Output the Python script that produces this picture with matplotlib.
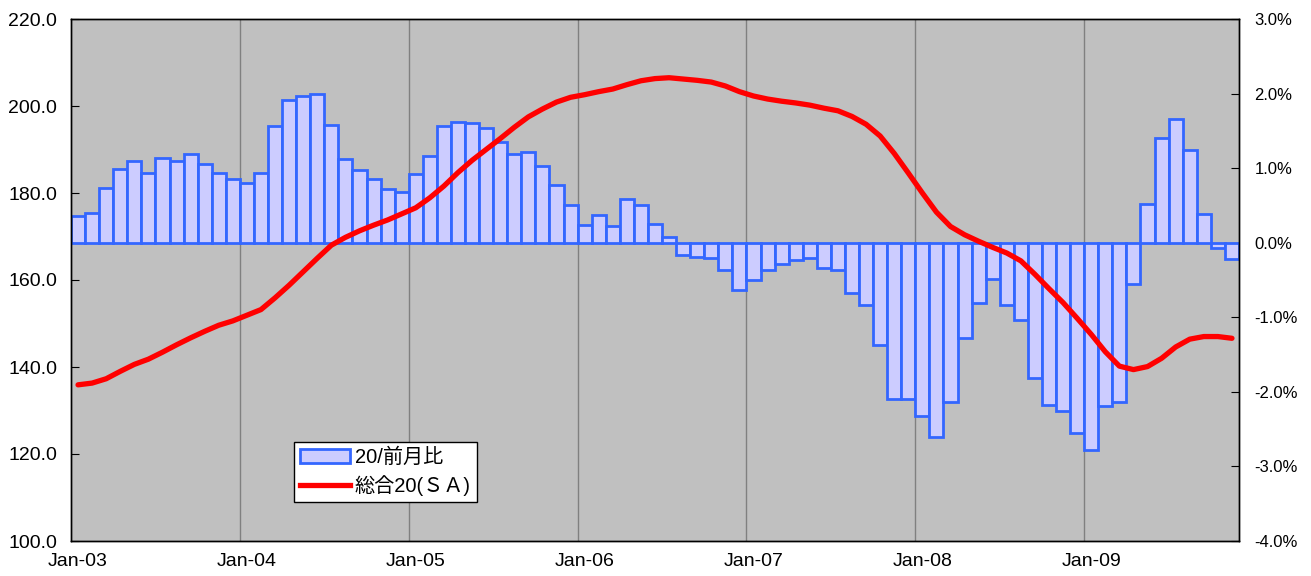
import matplotlib
matplotlib.use("Agg")
import matplotlib.pyplot as plt
from matplotlib.patches import Patch
from matplotlib.lines import Line2D
import numpy as np

plt.rcParams['font.family'] = ['Liberation Sans', 'Noto Sans CJK JP', 'DejaVu Sans']

# Monthly series, Jan-03 .. Nov-09
months = np.arange(83)

# month-on-month change (%), right axis
mom_pct = [
    0.36, 0.40, 0.74, 0.99, 1.09, 0.94, 1.13, 1.10, 1.19, 1.05, 0.94, 0.85,        # 2003
    0.80, 0.93, 1.56, 1.91, 1.97, 1.99, 1.58, 1.12, 0.97, 0.85, 0.72, 0.68,        # 2004
    0.92, 1.16, 1.56, 1.62, 1.61, 1.54, 1.35, 1.19, 1.22, 1.03, 0.78, 0.50,        # 2005
    0.24, 0.37, 0.22, 0.58, 0.51, 0.25, 0.07, -0.16, -0.19, -0.20, -0.37, -0.63,   # 2006
    -0.50, -0.37, -0.28, -0.23, -0.20, -0.34, -0.36, -0.68, -0.84, -1.37, -2.09, -2.10,  # 2007
    -2.32, -2.60, -2.13, -1.28, -0.81, -0.49, -0.84, -1.03, -1.81, -2.18, -2.26, -2.55,  # 2008
    -2.78, -2.19, -2.14, -0.56, 0.52, 1.41, 1.66, 1.25, 0.38, -0.07, -0.22,        # 2009
]

# composite index (SA), left axis
index_sa = [
    135.9, 136.3, 137.3, 139.0, 140.6, 141.8, 143.4, 145.1, 146.7, 148.2, 149.6, 150.6,
    151.9, 153.2, 155.9, 158.8, 161.9, 165.0, 168.0, 169.8, 171.3, 172.6, 173.8, 175.2,
    176.6, 178.9, 181.6, 184.7, 187.5, 190.0, 192.5, 195.1, 197.5, 199.3, 200.9, 202.0,
    202.6, 203.3, 203.9, 204.9, 205.8, 206.3, 206.5, 206.2, 205.9, 205.5, 204.6, 203.3,
    202.3, 201.6, 201.1, 200.7, 200.2, 199.5, 198.9, 197.6, 195.8, 193.1, 189.1, 184.6,
    180.0, 175.6, 172.3, 170.4, 168.9, 167.5, 166.2, 164.4, 161.3, 158.0, 154.8, 151.2,
    147.5, 143.5, 140.2, 139.4, 140.1, 142.0, 144.6, 146.4, 147.0, 147.0, 146.6,
]

year_starts = [0, 12, 24, 36, 48, 60, 72]
year_labels = ['Jan-03', 'Jan-04', 'Jan-05', 'Jan-06', 'Jan-07', 'Jan-08', 'Jan-09']

fig = plt.figure(figsize=(13.11, 5.76), dpi=100)
ax = fig.add_axes([71 / 1311, 1 - 541 / 576, 1168 / 1311, 522 / 576])
ax.set_facecolor('#C0C0C0')
ax2 = ax.twinx()

# bars on primary axis (percent scale shown on the right)
ax.bar(months, mom_pct, width=1.0, align='edge',
       color='#CCCCFF', edgecolor='#3366FF', linewidth=2.0, zorder=2)
for ys in year_starts[1:]:
    ax.axvline(ys, color='#808080', linewidth=1.0, zorder=1)

ax.set_xlim(0, 83)
ax.set_ylim(-4, 3)
ax.yaxis.tick_right()
pct_ticks = np.arange(-4, 3.1, 1)
ax.set_yticks(pct_ticks)
ax.set_yticklabels([f"{v:.1f}%" for v in pct_ticks], fontsize=12)
ax.tick_params(axis='y', direction='in', length=6, pad=11)
ax.set_xticks([y + 0.5 for y in year_starts])
ax.set_xticklabels(year_labels, fontsize=14)
ax.tick_params(axis='x', length=0, pad=9)

# level line on twin axis (shown on the left)
ax2.plot(months + 0.5, index_sa, color='#FF0000', linewidth=3.8,
         solid_capstyle='round', zorder=3)
ax2.set_ylim(100, 220)
ax2.yaxis.tick_left()
lvl_ticks = np.arange(100, 221, 20)
ax2.set_yticks(lvl_ticks)
ax2.set_yticklabels([f"{v:.1f}" for v in lvl_ticks], fontsize=14)
ax2.tick_params(axis='y', direction='in', length=6, pad=10)

for a in (ax, ax2):
    for s in a.spines.values():
        s.set_color('black')
        s.set_linewidth(1.0)

handles = [
    Patch(facecolor='#CCCCFF', edgecolor='#3366FF', linewidth=2.0),
    Line2D([0], [0], color='#FF0000', linewidth=3.8),
]
labels = ['20/前月比', '総合20(ＳＡ)']
leg = ax2.legend(handles, labels, loc='lower left', bbox_to_anchor=(0.191, 0.074),
                 borderaxespad=0, fontsize=14.5, frameon=True, fancybox=False,
                 edgecolor='black', framealpha=1, handlelength=2.5,
                 handletextpad=0.2, labelspacing=0.4, borderpad=0.3)
leg.get_frame().set_linewidth(1.0)

fig.savefig('out.png', dpi=100)
